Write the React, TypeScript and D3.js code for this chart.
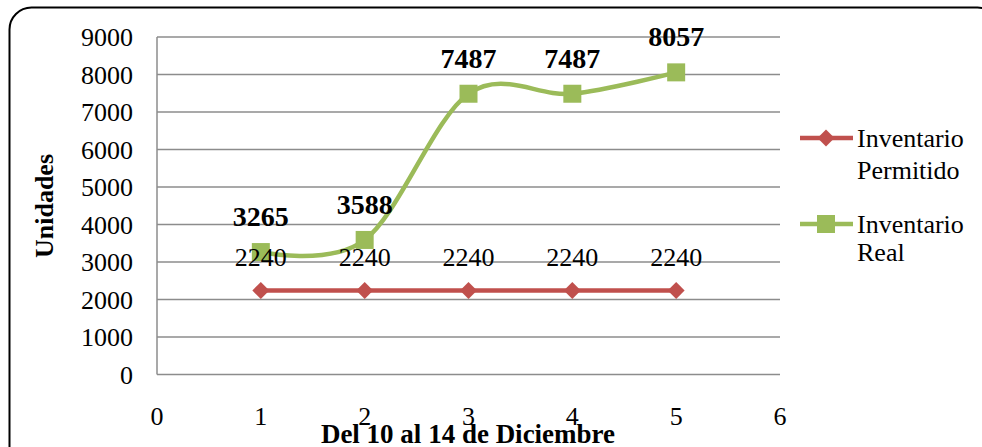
import React from "react";
import * as d3 from "d3";

const days = [1, 2, 3, 4, 5];
const permitido = [2240, 2240, 2240, 2240, 2240];
const real = [3265, 3588, 7487, 7487, 8057];
const yTicks = [0, 1000, 2000, 3000, 4000, 5000, 6000, 7000, 8000, 9000];
const xTicks = [0, 1, 2, 3, 4, 5, 6];
const seriesNames = ["Inventario Permitido", "Inventario Real"];

const RED = "#C0504D";
const GREEN = "#9BBB59";
const GRID = "#8C8C8C";
const FONT = "Liberation Serif, Times New Roman, serif";

export default function App() {
  const W = 982, H = 447;
  const x = d3.scaleLinear().domain([0, 6]).range([157, 780]);
  const y = d3.scaleLinear().domain([0, 9000]).range([374.5, 37]);
  const redLine = d3.line<number>().x((_, i) => x(days[i])).y((d) => y(d));
  const greenLine = d3
    .line<number>()
    .x((_, i) => x(days[i]))
    .y((d) => y(d))
    .curve(d3.curveCardinal.tension(0));
  const fs = 26;
  return (
    <svg width={W} height={H} style={{ position: "absolute", left: 0, top: 0, fontFamily: FONT }}>
      <rect x={0} y={0} width={W} height={H} fill="#fff" />
      <rect x={9.5} y={7.5} width={990} height={470} rx={22} ry={22} fill="none" stroke="#000" strokeWidth={2} />
      {yTicks.map((t) => (
        <g key={t}>
          {t > 0 && <line x1={x(0)} x2={x(6)} y1={y(t)} y2={y(t)} stroke={GRID} strokeWidth={1.5} />}
          <text x={133} y={y(t)} dy="0.35em" textAnchor="end" fontSize={fs}>{t}</text>
        </g>
      ))}
      <line x1={x(0)} x2={x(6)} y1={y(0)} y2={y(0)} stroke={GRID} strokeWidth={1.5} />
      <line x1={x(0)} x2={x(0)} y1={y(9000)} y2={y(0)} stroke={GRID} strokeWidth={1.5} />
      {xTicks.map((t) => (
        <text key={t} x={x(t)} y={416} dy="0.35em" textAnchor="middle" fontSize={fs}>{t}</text>
      ))}
      <text x={468} y={443} textAnchor="middle" fontSize={27} fontWeight="bold">Del 10 al 14 de Diciembre</text>
      <text transform={`translate(53,206) rotate(-90)`} textAnchor="middle" fontSize={26} fontWeight="bold">Unidades</text>

      <path d={redLine(permitido) || ""} fill="none" stroke={RED} strokeWidth={4.5} />
      {permitido.map((v, i) => (
        <rect key={i} x={-6} y={-6} width={12} height={12} fill={RED}
          transform={`translate(${x(days[i])},${y(v)}) rotate(45)`} />
      ))}
      <path d={greenLine(real) || ""} fill="none" stroke={GREEN} strokeWidth={4.5} />
      {real.map((v, i) => (
        <rect key={i} x={x(days[i]) - 9} y={y(v) - 9} width={18} height={18} fill={GREEN} />
      ))}
      {permitido.map((v, i) => (
        <text key={i} x={x(days[i])} y={y(v) - 34} dy="0.35em" textAnchor="middle" fontSize={fs}>{v}</text>
      ))}
      {real.map((v, i) => (
        <text key={i} x={x(days[i])} y={y(v) - 36} dy="0.35em" textAnchor="middle" fontSize={28} fontWeight="bold">{v}</text>
      ))}

      <line x1={800} x2={853} y1={138} y2={138} stroke={RED} strokeWidth={4.5} />
      <rect x={-6} y={-6} width={12} height={12} fill={RED} transform="translate(826,138) rotate(45)" />
      <text x={857} y={138} dy="0.35em" fontSize={fs}>{seriesNames[0].split(" ")[0]}</text>
      <text x={857} y={170} dy="0.35em" fontSize={fs}>{seriesNames[0].split(" ")[1]}</text>
      <line x1={800} x2={853} y1={224} y2={224} stroke={GREEN} strokeWidth={4.5} />
      <rect x={817} y={215} width={18} height={18} fill={GREEN} />
      <text x={857} y={224} dy="0.35em" fontSize={fs}>{seriesNames[1].split(" ")[0]}</text>
      <text x={857} y={252} dy="0.35em" fontSize={fs}>{seriesNames[1].split(" ")[1]}</text>
    </svg>
  );
}
